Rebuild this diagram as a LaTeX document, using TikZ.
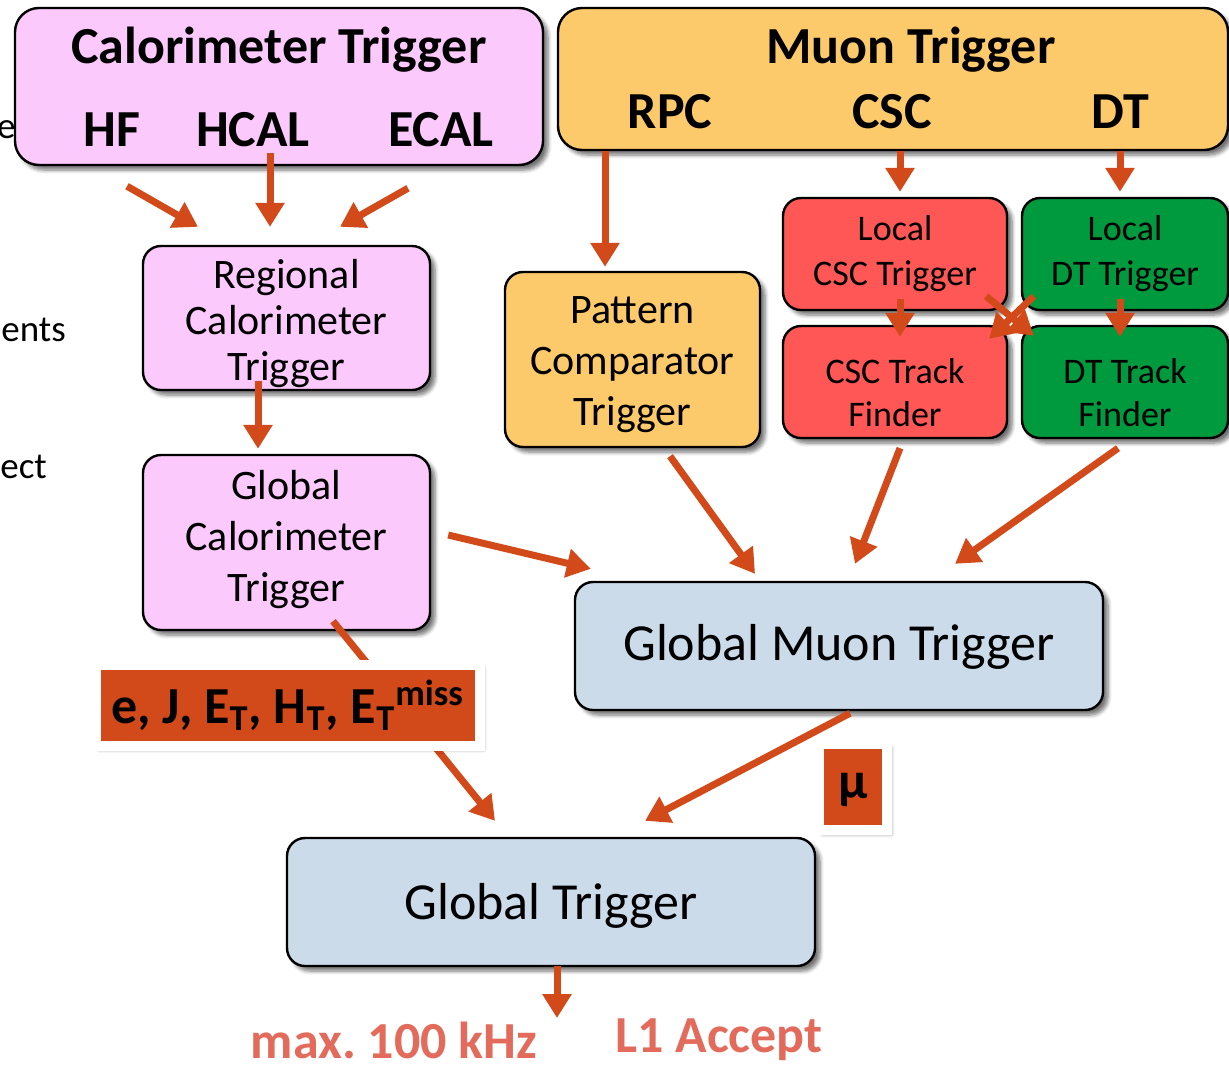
\documentclass[tikz,border=0pt]{standalone}
\usepackage{fontspec}
\setmainfont{Carlito}
\usetikzlibrary{arrows.meta,calc,shadows.blur}

\definecolor{calopink}{HTML}{FBC9FB}
\definecolor{muonyellow}{HTML}{FDCA6B}
\definecolor{cscred}{HTML}{FF5656}
\definecolor{dtgreen}{HTML}{009A3E}
\definecolor{gtblue}{HTML}{CCDBEA}
\definecolor{floworange}{HTML}{D24A1A}
\definecolor{ratecoral}{HTML}{E26B5C}

\begin{document}
\begin{tikzpicture}[x=0.5pt,y=-0.5pt,
    box/.style={draw=black,line width=1.2pt,rounded corners=9pt,align=center,inner sep=0pt,
        blur shadow={shadow xshift=2.5pt,shadow yshift=-2.5pt,shadow blur steps=6,shadow opacity=55}},
    head/.style={font=\fontsize{26}{30}\selectfont\bfseries,inner sep=0pt},
    mid/.style={font=\fontsize{21}{#1}\selectfont},
    small/.style={font=\fontsize{18}{#1}\selectfont},
    side/.style={font=\fontsize{18.5}{22}\selectfont,inner sep=0pt},
    tag/.style={fill=floworange,draw=white,line width=5pt,inner sep=0pt,
        font=\fontsize{26}{30}\selectfont\bfseries,
        blur shadow={shadow xshift=2pt,shadow yshift=-2pt,shadow blur steps=5,shadow opacity=45}},
    flow/.style={draw=floworange,line width=3.5pt,-{Triangle[length=12pt,width=14pt]}},
    rate/.style={text=ratecoral,inner sep=0pt,font=\fontsize{26}{30}\selectfont\bfseries}]
\useasboundingbox (0,0) rectangle (1229,1066);

% text running in from the left
\node[side,anchor=east] (frag1) at (16,130) {e};
\node[side,anchor=west] (frag2) at (1,330) {ents};
\node[side,anchor=west] (frag3) at (0,467) {ect};

% detector inputs
\node[box,fill=calopink,minimum width=264pt,minimum height=78.5pt,rounded corners=12pt] (calo) at (279,86.5) {};
\node[head] (calotitle) at (279,50) {Calorimeter Trigger};
\node[head] (hf) at (112,130) {HF};
\node[head] (hcal) at (253,130) {HCAL};
\node[head] (ecal) at (441,130) {ECAL};

\node[box,fill=muonyellow,minimum width=335pt,minimum height=71pt,rounded corners=12pt] (muon) at (893,79) {};
\node[head] (muontitle) at (911,50) {Muon Trigger};
\node[head] (rpc) at (670,112) {RPC};
\node[head] (csc) at (892,112) {CSC};
\node[head] (dt) at (1120,112) {DT};

% trigger stages
\node[box,fill=calopink,minimum width=143.5pt,minimum height=72pt,mid=23pt,text height=65.7pt] (reg) at (286.5,318) {Regional\\Calorimeter\\Trigger};
\node[box,fill=calopink,minimum width=143.5pt,minimum height=87.5pt,mid=25.5pt,text height=62.7pt] (gct) at (286.5,542.5) {Global\\Calorimeter\\Trigger};
\node[box,fill=muonyellow,minimum width=127.5pt,minimum height=87.5pt,mid=25.5pt,text height=69.5pt] (pattern) at (632.5,359.5) {Pattern\\Comparator\\Trigger};
\node[box,fill=cscred,minimum width=112pt,minimum height=56pt,small=22.5pt] (lcsc) at (895,254) {Local\\CSC Trigger};
\node[box,fill=dtgreen,minimum width=103pt,minimum height=56pt,small=22.5pt] (ldt) at (1125,254) {Local\\DT Trigger};
\node[box,fill=cscred,minimum width=112pt,minimum height=56pt,small=21.5pt,text height=44.6pt] (csctf) at (895,382) {CSC Track\\Finder};
\node[box,fill=dtgreen,minimum width=103pt,minimum height=56pt,small=21.5pt,text height=44.6pt] (dttf) at (1125,382) {DT Track\\Finder};
\node[box,fill=gtblue,minimum width=264pt,minimum height=64pt,font=\fontsize{26}{30}\selectfont,text depth=3.5pt] (gmt) at (839,646) {Global Muon Trigger};
\node[box,fill=gtblue,minimum width=264pt,minimum height=64pt,font=\fontsize{26}{30}\selectfont,text depth=0.5pt] (gt) at (551,902) {Global Trigger};

% data flow
\draw[flow] ($(calo.south)+(-152,20)$) -- ($(reg.north)+(-88.5,-18)$);
\draw[flow] ($(calo.south)+(-9,-13)$) -- ($(reg.north)+(-16.5,-18)$);
\draw[flow] ($(calo.south)+(129,22)$) -- ($(reg.north)+(53.5,-18)$);
\draw[flow] ($(reg.south)+(-28.5,-10)$) -- ($(gct.north)+(-28.5,-5)$);
\draw[flow] ($(muon.south)+(-288,0)$) -- ($(pattern.north)+(-27.5,-4)$);
\draw[flow] ($(lcsc.north)+(5,-46)$) -- ($(lcsc.north)+(5,-5)$);
\draw[flow] ($(ldt.north)+(-5,-46)$) -- ($(ldt.north)+(-5,-5)$);
\draw[flow] ($(lcsc.south)+(5,-12)$) -- ($(csctf.north)+(5,12)$);
\draw[flow] ($(ldt.south)+(-5,-12)$) -- ($(dttf.north)+(-5,12)$);
\draw[flow] ($(lcsc.south east)+(-22,-15)$) -- ($(dttf.north west)+(13,11)$);
\draw[flow] ($(ldt.south west)+(13,-15)$) -- ($(csctf.north east)+(-19,14)$);
\draw[flow] ($(pattern.south)+(37.5,8)$) -- ($(gmt.north)+(-84,-7)$);
\draw[flow] ($(csctf.south)+(5,9)$) -- ($(gmt.north)+(16,-17)$);
\draw[flow] ($(dttf.south)+(-7,9)$) -- ($(gmt.north)+(116,-17)$);
\draw[flow] ($(gct.east)+(17,-7.5)$) -- ($(gmt.north west)+(17,-12)$);
\draw[flow] ($(gct.south)+(46.5,-10)$) -- ($(gt.north)+(-56,-16)$);
\draw[flow] ($(gmt.south)+(11,2)$) -- ($(gt.north)+(94,-16)$);
\coordinate (l1out) at (557,1018);
\draw[flow] ($(gt.south)+(6,-1)$) -- (l1out);

% objects passed to the global trigger
\node[tag,minimum width=192pt,minimum height=40.5pt] (caloobj) at (287.5,705)
    {e, J, E\textsubscript{T}, H\textsubscript{T}, E\textsubscript{T}\textsuperscript{miss}};
\node[tag,minimum width=34pt,minimum height=43pt,text depth=1pt] (muobj) at (853,787) {μ};

\node[rate] (maxrate) at (394,1040) {max.\ 100 kHz};
\node[rate] (accept) at (719,1040) {L1 Accept};
\end{tikzpicture}
\end{document}
